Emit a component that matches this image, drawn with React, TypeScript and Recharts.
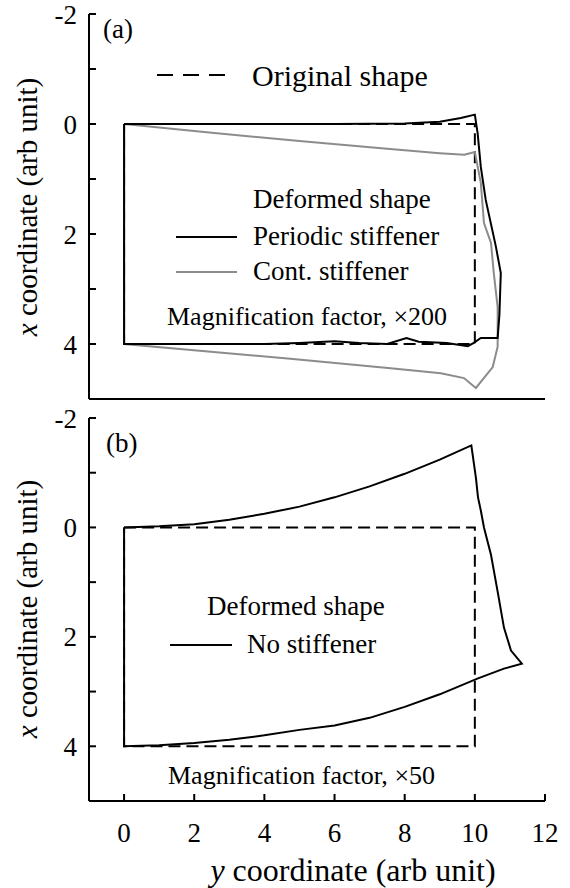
import { ComposedChart, Line, XAxis, YAxis } from "recharts";

// horizontal = y coordinate, vertical = x coordinate (arb unit)
const originalY = [0, 10, 10, 0, 0];
const originalX = [0, 0, 4, 4, 0];

// (a) periodic stiffener, x200
const periodicY = [0, 2, 4, 6, 8, 9, 9.6, 10.0, 10.08, 10.17, 10.31, 10.6, 10.74, 10.7, 10.65, 10.17, 9.97, 9.8, 9.2, 8.4, 8.05, 7.5, 6.7, 6.0, 5.0, 4, 2, 0, 0];
const periodicX = [0, 0, 0, 0, -0.01, -0.04, -0.11, -0.17, 0.17, 0.78, 1.38, 2.23, 2.71, 3.47, 3.89, 3.89, 3.98, 4.04, 3.98, 3.96, 3.89, 4.0, 3.98, 3.95, 3.98, 4, 4, 4, 0];

// (a) continuous stiffener, x200
const contY = [0, 2.5, 5, 7.5, 9.0, 9.7, 10.0, 10.17, 10.26, 10.46, 10.54, 10.65, 10.65, 10.51, 10.03, 9.69, 9.03, 7.6, 4.74, 0, 0];
const contX = [0, 0.16, 0.31, 0.45, 0.53, 0.56, 0.51, 1.07, 1.8, 2.16, 2.71, 3.33, 4.05, 4.42, 4.8, 4.62, 4.53, 4.44, 4.27, 4, 0];

// (b) no stiffener, x50
const noStiffY = [0, 1, 2, 3, 4, 5, 6, 7, 8, 9, 9.9, 10.03, 10.09, 10.17, 10.26, 10.46, 10.66, 10.83, 11.03, 11.34, 10.83, 10.09, 9, 8, 7, 6, 5, 4, 3, 2, 1, 0, 0];
const noStiffX = [0, -0.02, -0.06, -0.14, -0.25, -0.38, -0.55, -0.75, -0.98, -1.24, -1.5, -0.91, -0.55, -0.31, 0.0, 0.5, 1.21, 1.83, 2.25, 2.49, 2.58, 2.76, 3.05, 3.28, 3.48, 3.62, 3.7, 3.8, 3.88, 3.94, 3.98, 4, 0];

const xTicks = [0, 2, 4, 6, 8, 10, 12];
const yTicks = [-2, -1, 0, 1, 2, 3, 4];

const pts = (hs: number[], vs: number[]) => hs.map((h, i) => ({ x: h, y: vs[i] }));

const FONT = "'Liberation Serif', 'Times New Roman', serif";
const tickStyle = { fontSize: 27, fill: "#000", fontFamily: FONT };
const axisLine = { stroke: "#000", strokeWidth: 2 };

function Panel({ height, top, xHeight, labels, children }: { height: number; top: number; xHeight: number; labels: boolean; children: any }) {
  return (
    <ComposedChart width={570} height={height} margin={{ top, right: 25, bottom: 0, left: 0 }}>
      <XAxis
        type="number"
        dataKey="x"
        domain={[-1, 12]}
        ticks={xTicks}
        interval={0}
        height={xHeight}
        tickSize={-7}
        tickMargin={29}
        tick={labels ? tickStyle : false}
        axisLine={axisLine}
        tickLine={axisLine}
        allowDataOverflow
      />
      <YAxis
        type="number"
        domain={[-2, 5]}
        reversed
        ticks={yTicks}
        interval={0}
        width={89}
        tickSize={-7}
        tickMargin={19}
        tick={tickStyle}
        tickFormatter={(v: number) => (v % 2 === 0 ? String(v) : "")}
        axisLine={axisLine}
        tickLine={axisLine}
        allowDataOverflow
      />
      {children}
    </ComposedChart>
  );
}

export default function App() {
  return (
    <div style={{ position: "absolute", left: 0, top: 0, width: 570, height: 888, background: "#fff" }}>
      <div style={{ position: "absolute", left: 0, top: 0 }}>
        <Panel height={420} top={14} xHeight={21} labels={false}>
          <Line data={pts(originalY, originalX)} dataKey="y" type="linear" stroke="#000" strokeWidth={2} strokeDasharray="12 6" dot={false} isAnimationActive={false} />
          <Line data={pts(contY, contX)} dataKey="y" type="linear" stroke="#8c8c8c" strokeWidth={2} dot={false} isAnimationActive={false} />
          <Line data={pts(periodicY, periodicX)} dataKey="y" type="linear" stroke="#000" strokeWidth={2} dot={false} isAnimationActive={false} />
        </Panel>
      </div>
      <div style={{ position: "absolute", left: 0, top: 400 }}>
        <Panel height={488} top={18} xHeight={87} labels={true}>
          <Line data={pts(originalY, originalX)} dataKey="y" type="linear" stroke="#000" strokeWidth={2} strokeDasharray="12 6" dot={false} isAnimationActive={false} />
          <Line data={pts(noStiffY, noStiffX)} dataKey="y" type="linear" stroke="#000" strokeWidth={2} dot={false} isAnimationActive={false} />
        </Panel>
      </div>
      <svg width={570} height={888} style={{ position: "absolute", left: 0, top: 0, pointerEvents: "none" }} fontFamily={FONT} fill="#000">
        {/* panel (a) annotations */}
        <text x={103} y={38} fontSize={27}>(a)</text>
        <line x1={157} y1={75} x2={225} y2={75} stroke="#000" strokeWidth={2} strokeDasharray="16 10" />
        <text x={252} y={86} fontSize={30}>Original shape</text>
        <text x={253} y={208} fontSize={27}>Deformed shape</text>
        <line x1={176} y1={237} x2={237} y2={237} stroke="#000" strokeWidth={2} />
        <text x={253} y={245} fontSize={27}>Periodic stiffener</text>
        <line x1={176} y1={272} x2={237} y2={272} stroke="#8c8c8c" strokeWidth={2} />
        <text x={253} y={280} fontSize={27}>Cont. stiffener</text>
        <text x={167} y={325} fontSize={26}>Magnification factor, {"\u00d7"}200</text>
        <text transform="translate(37,207) rotate(-90)" textAnchor="middle" fontSize={29}>
          <tspan fontStyle="italic">x</tspan> coordinate (arb unit)
        </text>
        {/* panel (b) annotations */}
        <text x={106} y={452} fontSize={27}>(b)</text>
        <text x={207} y={615} fontSize={27}>Deformed shape</text>
        <line x1={170} y1={645} x2={232} y2={645} stroke="#000" strokeWidth={2} />
        <text x={247} y={653} fontSize={27}>No stiffener</text>
        <text x={168} y={784} fontSize={26}>Magnification factor, {"\u00d7"}50</text>
        <text transform="translate(37,609) rotate(-90)" textAnchor="middle" fontSize={29}>
          <tspan fontStyle="italic">x</tspan> coordinate (arb unit)
        </text>
        <text x={353} y={881} textAnchor="middle" fontSize={32}>
          <tspan fontStyle="italic">y</tspan> coordinate (arb unit)
        </text>
      </svg>
    </div>
  );
}
